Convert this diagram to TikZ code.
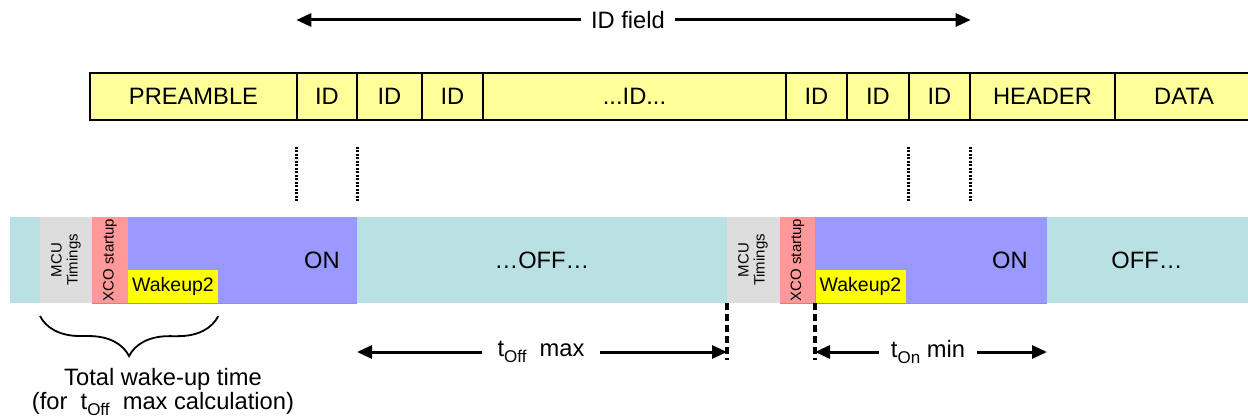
\documentclass[tikz,border=0pt]{standalone}
\usepackage{fontspec}
\setmainfont{Liberation Sans}
\usetikzlibrary{arrows.meta,decorations.pathreplacing}
\definecolor{cellyellow}{HTML}{FFFF99}
\definecolor{offcyan}{HTML}{B9E0E3}
\definecolor{mcugray}{HTML}{DDDDDD}
\definecolor{xcored}{HTML}{FF9999}
\definecolor{onblue}{HTML}{9999FF}
\definecolor{wakeyellow}{HTML}{FFFF00}
\newcommand{\lowtext}[1]{\raisebox{-0.45ex}{\fontsize{17}{17}\selectfont #1}}
\newcommand{\idrun}{...ID...}

\begin{document}
\begin{tikzpicture}[x=1pt,y=-1pt,
	big/.style={ font=\fontsize{23.7}{28}\selectfont },
	field/.style={ big, draw=black, line width=1.3pt, fill=cellyellow, minimum height=47pt, inner sep=0pt },
	slot/.style={ minimum height=86pt, inner sep=0pt, outer sep=0pt },
	wakebox/.style={ fill=wakeyellow, minimum width=90pt, minimum height=33pt, inner sep=0pt, font=\fontsize{19.5}{20}\selectfont },
	sidetext/.style={ rotate=90, align=center, inner sep=0pt, font=\fontsize{15}{16}\selectfont },
	dimline/.style={ line width=3pt, -{Triangle[length=15pt,width=13pt]} },
	dotline/.style={ line width=3pt, dash pattern=on 2pt off 1.5pt },
	dashline/.style={ line width=3.2pt, dash pattern=on 7pt off 4pt }
]
\clip (0,0) rectangle (1248,417);

\foreach \s/\l/\r/\t in {pre/90/297/PREAMBLE, ida/297/357/ID, idb/357/422/ID, idc/422/483/ID, idm/483/786/\idrun, idx/786/847/ID, idy/847/909/ID, idz/909/970/ID, hdr/970/1115/HEADER, dat/1115/1253/DATA}
	\node (\s) [field, minimum width={(\r-\l)*1pt}] at ({(\l+\r)/2},96.5) {\t};

\node at (628,20) (idf) [big, inner xsep=10pt] {ID field};
\draw[dimline] (idf.west) -- (idf.west -| ida.west);
\draw[dimline] (idf.east) -- (idf.east -| idz.east);

\foreach \p in {ida.south west, ida.south east, idz.south west, idz.south east}
	\draw[dotline] ([yshift=-26pt]\p) -- ([yshift=-82pt]\p);

\foreach \s/\l/\r/\c in {off0/10/40/offcyan, mcu1/40/92/mcugray, xco1/92/128/xcored, on1/128/357/onblue, off1/357/727/offcyan, mcu2/727/780/mcugray, xco2/780/815/xcored, on2/815/1047/onblue, off2/1047/1253/offcyan}
	\node (\s) [slot, fill=\c, minimum width={(\r-\l)*1pt}] at ({(\l+\r)/2},260) {};
\draw[onblue!70!gray, line width=1pt] (xco1.south west) -- (on1.south east);
\draw[onblue!70!gray, line width=1pt] (xco2.south west) -- (on2.south east);

\node (wk1) [wakebox] at (173,286.5) {Wakeup2};
\node (wk2) [wakebox] at (860.5,286.5) {Wakeup2};
\node at (66,260) [sidetext] {MCU\\Timings};
\node at (753,260) [sidetext] {MCU\\Timings};
\node at (110,260) [sidetext] {XCO startup};
\node at (797.5,260) [sidetext] {XCO startup};
\node at (322,260) [big] {ON};
\node at (1010,260) [big] {ON};
\node at (542,260) [big] {…OFF…};
\node at (1147,260) [big] {OFF…};

\draw[dashline] (mcu2.south west) -- ++(0,57);
\draw[dashline] (xco2.south east) -- ++(0,57);

\node at (541,352) (toff) [big, inner xsep=15pt] {t\lowtext{Off} \ max};
\draw[dimline] (toff.west) -- (toff.west -| on1.east);
\draw[dimline] (toff.east) -- (toff.east -| mcu2.west);
\node at (928,352) (ton) [big, inner xsep=12pt] {t\lowtext{On} min};
\draw[dimline] (ton.west) -- (ton.west -| xco2.east);
\draw[dimline] (ton.east) -- (ton.east -| on2.east);

\draw[line width=1.8pt, decorate, decoration={brace, mirror, amplitude=40pt}] ([yshift=-13pt]mcu1.south west) -- ([yshift=-13pt]wk1.south east);
\node at (163,392) (wake) [align=center, font=\fontsize{23.7}{24}\selectfont] {Total wake-up time\\(for \ t\lowtext{Off} \ max calculation)};

\end{tikzpicture}
\end{document}
